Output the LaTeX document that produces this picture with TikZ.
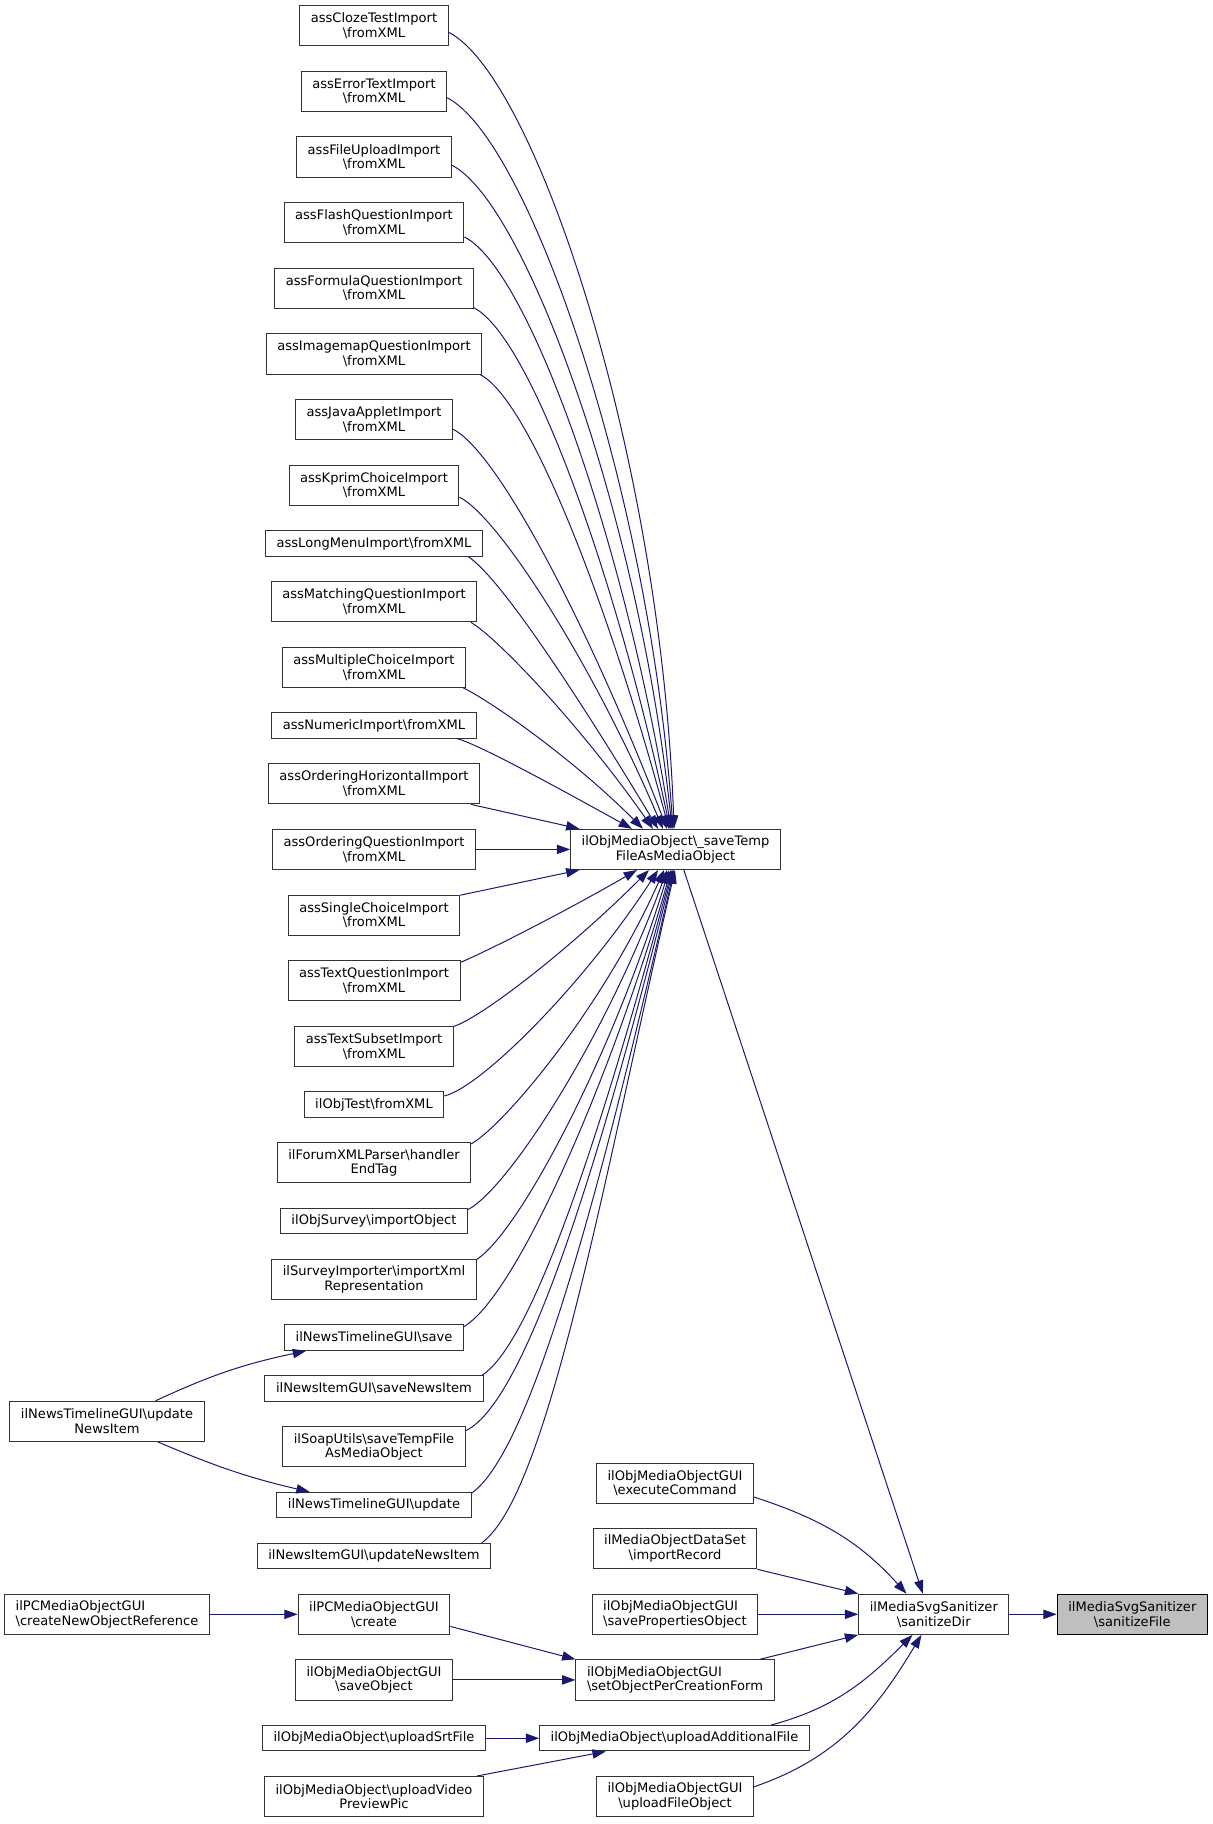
\documentclass[tikz,border=0pt]{standalone}
\usepackage{fontspec}
\setmainfont{DejaVu Sans}
\usetikzlibrary{arrows.meta,calc}
\definecolor{callblue}{RGB}{25,25,112}
\definecolor{focusgray}{RGB}{191,191,191}
\newcommand{\fnsep}{\textbackslash}

\begin{document}
\begin{tikzpicture}[x=0.75pt,y=0.75pt,
                    fn node/.style={draw=black!80,line width=0.75pt,fill=white,
                                    inner xsep=8.3pt,inner ysep=2pt,minimum height=19.1pt,
                                    align=center,font=\fontsize{9.8}{11}\selectfont},
                    fn two/.style={fn node,minimum height=30.15pt},
                    focus node/.style={fn two,fill=focusgray,draw=black},
                    call/.style={draw=callblue,line width=0.75pt,-{Triangle[length=10pt,width=7pt]}},
                    fan/.style={call,out looseness=0.3,in looseness=1.15}
                   ]
   \useasboundingbox (0,0) rectangle (1213,-1824);
   % callers of _saveTempFileAsMediaObject
   \node[fn two]  (cloze)     at (374,-25.8)   {assClozeTestImport\\\fnsep fromXML};
   \node[fn two]  (errText)   at (374,-91.4)   {assErrorTextImport\\\fnsep fromXML};
   \node[fn two]  (fileUp)    at (374,-157)    {assFileUploadImport\\\fnsep fromXML};
   \node[fn two]  (flash)     at (374,-222.6)  {assFlashQuestionImport\\\fnsep fromXML};
   \node[fn two]  (formula)   at (374,-288.3)  {assFormulaQuestionImport\\\fnsep fromXML};
   \node[fn two]  (imagemap)  at (374,-353.9)  {assImagemapQuestionImport\\\fnsep fromXML};
   \node[fn two]  (java)      at (374,-419.5)  {assJavaAppletImport\\\fnsep fromXML};
   \node[fn two]  (kprim)     at (374,-485.1)  {assKprimChoiceImport\\\fnsep fromXML};
   \node[fn node] (longMenu)  at (374,-543.4)  {assLongMenuImport\fnsep fromXML};
   \node[fn two]  (matching)  at (374,-601.7)  {assMatchingQuestionImport\\\fnsep fromXML};
   \node[fn two]  (multiple)  at (374,-667.3)  {assMultipleChoiceImport\\\fnsep fromXML};
   \node[fn node] (numeric)   at (374,-725.5)  {assNumericImport\fnsep fromXML};
   \node[fn two]  (ordHoriz)  at (374,-783.8)  {assOrderingHorizontalImport\\\fnsep fromXML};
   \node[fn two]  (ordQuest)  at (374,-849.4)  {assOrderingQuestionImport\\\fnsep fromXML};
   \node[fn two]  (single)    at (374,-915.1)  {assSingleChoiceImport\\\fnsep fromXML};
   \node[fn two]  (textQuest) at (374,-980.7)  {assTextQuestionImport\\\fnsep fromXML};
   \node[fn two]  (textSub)   at (374,-1046.3) {assTextSubsetImport\\\fnsep fromXML};
   \node[fn node] (objTest)   at (374,-1104.6) {ilObjTest\fnsep fromXML};
   \node[fn two]  (forum)     at (374,-1162.8) {ilForumXMLParser\fnsep handler\\EndTag};
   \node[fn node] (survey)    at (374,-1221.1) {ilObjSurvey\fnsep importObject};
   \node[fn two]  (surveyImp) at (374,-1279.4) {ilSurveyImporter\fnsep importXml\\Representation};
   \node[fn node] (tlSave)    at (374,-1337.6) {ilNewsTimelineGUI\fnsep save};
   \node[fn node] (niSave)    at (374,-1388.6) {ilNewsItemGUI\fnsep saveNewsItem};
   \node[fn two]  (soap)      at (374,-1446.8) {ilSoapUtils\fnsep saveTempFile\\AsMediaObject};
   \node[fn node] (tlUpdate)  at (374,-1505.1) {ilNewsTimelineGUI\fnsep update};
   \node[fn node] (niUpdate)  at (374,-1556)   {ilNewsItemGUI\fnsep updateNewsItem};
   \node[fn two]  (pcCreate)  at (374,-1614.3) {ilPCMediaObjectGUI\\\fnsep create};
   \node[fn two]  (saveObj)   at (374,-1679.9) {ilObjMediaObjectGUI\\\fnsep saveObject};
   \node[fn node] (srt)       at (374,-1738.2) {ilObjMediaObject\fnsep uploadSrtFile};
   \node[fn two]  (video)     at (374,-1796.5) {ilObjMediaObject\fnsep uploadVideo\\PreviewPic};
   % far left
   \node[fn two]  (tlUpdNews) at (107,-1421.4) {ilNewsTimelineGUI\fnsep update\\NewsItem};
   \node[fn two,align=left] (pcNewRef) at (107,-1614.3) {ilPCMediaObjectGUI\\\fnsep createNewObjectReference};
   % middle
   \node[fn two]  (saveTemp)  at (675.5,-849.4) {ilObjMediaObject\fnsep\_saveTemp\\FileAsMediaObject};
   \node[fn two]  (exec)      at (675,-1483.1)  {ilObjMediaObjectGUI\\\fnsep executeCommand};
   \node[fn two]  (impRec)    at (675,-1548.7)  {ilMediaObjectDataSet\\\fnsep importRecord};
   \node[fn two,align=left] (saveProps) at (675,-1614.3) {ilObjMediaObjectGUI\\\fnsep savePropertiesObject};
   \node[fn two,align=left] (setObj)    at (675,-1679.9) {ilObjMediaObjectGUI\\\fnsep setObjectPerCreationForm};
   \node[fn node] (uploadAdd) at (674.5,-1738.2) {ilObjMediaObject\fnsep uploadAdditionalFile};
   \node[fn two]  (uploadFile) at (675,-1796.5) {ilObjMediaObjectGUI\\\fnsep uploadFileObject};
   \node[fn two]  (sanDir)    at (933.8,-1614.3) {ilMediaSvgSanitizer\\\fnsep sanitizeDir};
   \node[focus node] (sanFile) at (1132.3,-1614.3) {ilMediaSvgSanitizer\\\fnsep sanitizeFile};

   % fan into _saveTempFileAsMediaObject
   \foreach \src/\ang/\dx/\o/\i in {cloze/-5/-1.1/-27/92, errText/-5.5/-1.9/-27/94,
        fileUp/-6.6/-2.6/-27/96, flash/-9/-3.4/-27/99, formula/-11/-4.1/-27/102,
        imagemap/-11/-4.9/-27/105, java/-7/-6.4/-27/111, kprim/-8.6/-9.4/-27/113,
        longMenu/-8/-13.1/-33/121, matching/-12/-16.9/-31/125,
        multiple/-13/-24.4/-25/135, numeric/-9.5/-32.6/-16/151}
      \draw[fan] (\src.\ang) to[out=\o,in=\i] ([xshift=\dx pt]saveTemp.north);
   \draw[call] (ordHoriz.-12) -- ([xshift=7pt]saveTemp.north west);
   \draw[call] (ordQuest) -- (saveTemp);
   \draw[call] (single.13) -- ([xshift=7pt]saveTemp.south west);
   \foreach \src/\ang/\dx/\o/\i in {textQuest/12/-28.9/22/210, textSub/14/-19.9/18/225,
        objTest/7.7/-13.1/13/237, forum/11.8/-8.6/30/246, survey/7.7/-6.4/28/250,
        surveyImp/11.4/-4.9/33/253, tlSave/7.9/-3.4/30/254, niSave/7.3/-2.6/32/255,
        soap/10.2/-1.9/25/256, tlUpdate/7.4/-1.1/35/257, niUpdate/7.2/-0.4/36/257}
      \draw[fan] (\src.\ang) to[out=\o,in=\i] ([xshift=\dx pt]saveTemp.south);

   % into sanitizeDir
   \draw[call] (saveTemp.-68) -- (sanDir.118);
   \draw[call] (exec.-10) to[out=-18,in=132] (sanDir.143);
   \draw[call] (impRec.south east) -- (sanDir.north west);
   \draw[call] (saveProps) -- (sanDir);
   \draw[call] ([xshift=-11pt]setObj.north east) -- (sanDir.south west);
   \draw[call] ([xshift=-29pt]uploadAdd.north east) to[out=15,in=225] (sanDir.-136);
   \draw[call] (uploadFile.7) to[out=19,in=239] (sanDir.-121);
   \draw[call] (sanDir) -- (sanFile);

   % lower left callers
   \draw[call] (pcNewRef) -- (pcCreate);
   \draw[call] (pcCreate.-9) -- (setObj.north west);
   \draw[call] (saveObj) -- (setObj);
   \draw[call] (srt) -- (uploadAdd);
   \draw[call] ([xshift=-5pt]video.north east) -- ([xshift=50pt]uploadAdd.south west);
   \draw[call] (tlUpdNews.23) to[out=25,in=192] ([xshift=16.5pt]tlSave.south west);
   \draw[call] (tlUpdNews.-22) to[out=-23,in=167] ([xshift=25pt]tlUpdate.north west);
\end{tikzpicture}
\end{document}
